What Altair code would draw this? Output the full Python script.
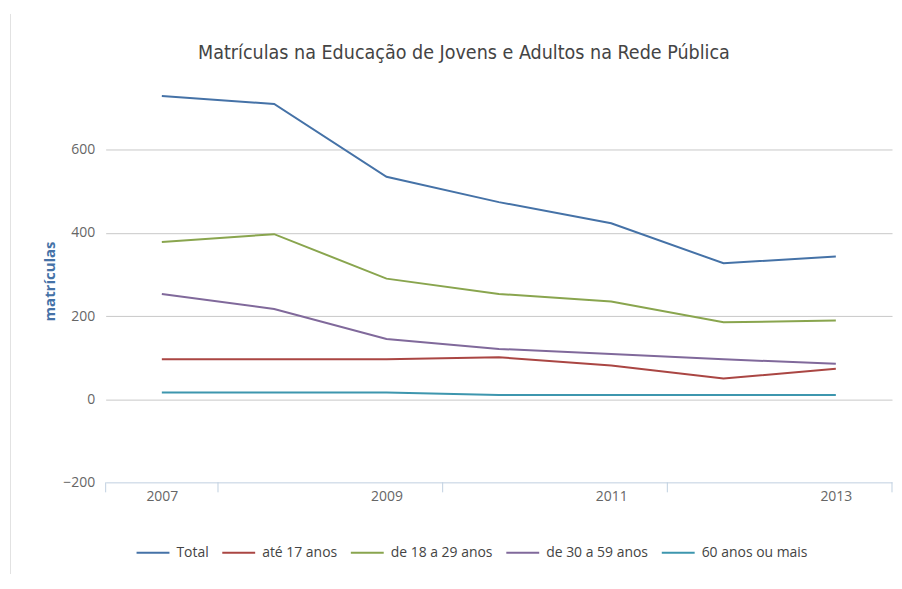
import altair as alt
import pandas as pd

years = [2007, 2008, 2009, 2010, 2011, 2012, 2013]
series_names = ["Total", "até 17 anos", "de 18 a 29 anos", "de 30 a 59 anos", "60 anos ou mais"]
total = [729, 710, 535, 474, 423, 327, 343]
ate_17 = [96, 96, 96, 101, 81, 50, 73]
de_18_29 = [378, 397, 290, 253, 235, 185, 189]
de_30_59 = [253, 217, 145, 121, 109, 96, 85]
mais_60 = [16, 16, 16, 10, 10, 10, 10]
colors = ["#4572A7", "#AA4643", "#89A54E", "#80699B", "#3D96AE"]

y_ticks = [-200, 0, 200, 400, 600]
x_label_years = [2007, 2009, 2011, 2013]
x_tick_marks = [2006.5, 2007.5, 2009.5, 2011.5, 2013.5]

values = [total, ate_17, de_18_29, de_30_59, mais_60]
rows = []
for name, vals in zip(series_names, values):
    for yr, v in zip(years, vals):
        rows.append({"x": yr, "serie": name, "matriculas": v})
df = pd.DataFrame(rows)

FONT = "Open Sans"
x_scale = alt.Scale(domain=[2006.5, 2013.5], nice=False, zero=False)
y_scale = alt.Scale(domain=[-200, 778], nice=False, zero=False)

x_axis = alt.Axis(
    title=None,
    values=x_label_years,
    labelExpr="'' + datum.value",
    grid=False,
    domain=True,
    domainColor="#C0D0E0",
    ticks=False,
    labelPadding=7,
    labelColor="#666666",
    labelFontSize=14,
    labelFont=FONT,
)

lines = alt.Chart(df).mark_line(strokeWidth=2).encode(
    x=alt.X("x:Q", scale=x_scale, axis=x_axis),
    y=alt.Y(
        "matriculas:Q",
        scale=y_scale,
        axis=alt.Axis(
            title="matrículas",
            values=y_ticks,
            grid=True,
            gridColor="#C8C8C8",
            gridOpacity={"condition": {"test": "datum.value === -200", "value": 0}, "value": 1},
            domain=False,
            ticks=False,
            labelPadding=11,
            labelColor="#666666",
            labelFontSize=14,
            labelFont=FONT,
            titleColor="#4572A7",
            titleFont=FONT,
            titleFontSize=15,
            titleFontWeight="bold",
            titleAngle=-90,
            titleX=-56,
            titleY=206,
            titleAlign="center",
            titleBaseline="middle",
        ),
    ),
    color=alt.Color(
        "serie:N",
        scale=alt.Scale(domain=series_names, range=colors),
        sort=series_names,
        legend=alt.Legend(
            title=None,
            orient="none",
            direction="horizontal",
            legendX=30,
            legendY=461,
            symbolType="stroke",
            symbolSize=1089,
            symbolStrokeWidth=2,
            labelOffset=6,
            columnPadding=9,
            labelFont=FONT,
            labelFontSize=14,
            labelColor="#444444",
        ),
    ),
    order=alt.Order("x:Q"),
)

ticks = alt.Chart(pd.DataFrame({"pos": x_tick_marks})).mark_rule(
    color="#C0D0E0", strokeWidth=1
).encode(
    x=alt.X("pos:Q", scale=x_scale),
    y=alt.value(408),
    y2=alt.value(418),
)

border = alt.Chart(pd.DataFrame({"k": [0]})).mark_rule(
    color="#E2E2E2", strokeWidth=1, clip=False
).encode(
    x=alt.value(-95.5), y=alt.value(-62), y2=alt.value(500)
)

chart = alt.layer(border, lines, ticks).properties(
    width=789,
    height=408,
    title=alt.TitleParams(
        "Matrículas na Educação de Jovens e Adultos na Rede Pública",
        font="'DejaVu Sans Condensed', Roboto, sans-serif",
        fontSize=19.6,
        fontWeight="normal",
        color="#444444",
        anchor="middle",
        frame="group",
        dx=-35,
        offset=-50,
    ),
    autosize=alt.AutoSizeParams(type="none"),
    padding={"left": 98, "top": 67, "right": 2, "bottom": 92},
).configure_view(stroke=None)

chart.save("out.html", embed_options={"renderer": "svg", "actions": False})
